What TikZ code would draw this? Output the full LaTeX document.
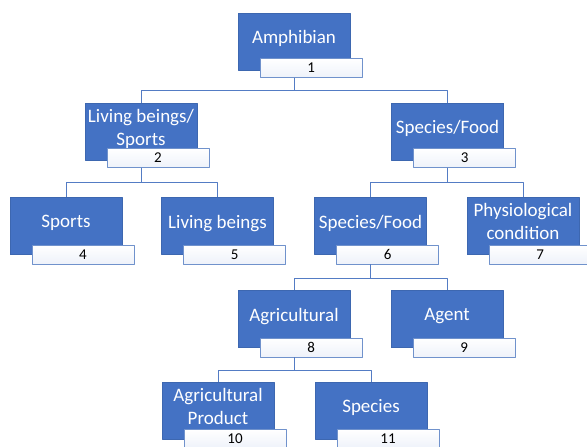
\documentclass[tikz,border=0pt]{standalone}
\usepackage{fontspec}
\setmainfont{Carlito}
\usetikzlibrary{positioning,calc}

\definecolor{orgblue}{RGB}{68,114,196}
\definecolor{numline}{RGB}{112,146,204}
\definecolor{numfill}{RGB}{238,242,250}
\definecolor{linkblue}{RGB}{84,124,196}

\tikzset{
  unitbox/.style={rectangle,fill=orgblue,draw=orgblue!90!black,line width=0.5pt,text=white,
    minimum width=112,minimum height=57,inner sep=1pt,align=center,text depth=9pt,
    font=\fontsize{19}{23}\selectfont},
  numbox/.style={rectangle,draw=numline,line width=0.6pt,top color=white,bottom color=numfill,
    minimum width=102,minimum height=19,inner sep=0pt,anchor=north west,
    font=\fontsize{15}{17}\selectfont},
  link/.style={draw=linkblue,line width=0.8pt}
}

\begin{document}
\begin{tikzpicture}[x=1pt,y=-1pt,line join=round]
  \path[use as bounding box] (0,0) rectangle (587,447);
  \clip (0,0) rectangle (587,447);
  % units
  \node[unitbox] (b1) at (294,41.5) {Amphibian};
  \node[unitbox] (b2) at (141,131.5) {Living beings/\\Sports};
  \node[unitbox] (b3) at (447.5,131.5) {Species/Food};
  \node[unitbox] (b4) at (66,226) {Sports};
  \node[unitbox] (b5) at (217.5,226) {Living beings};
  \node[unitbox] (b6) at (370.5,226) {Species/Food};
  \node[unitbox] (b7) at (523,226) {Physiological\\condition};
  \node[unitbox] (b8) at (294,319) {Agricultural};
  \node[unitbox] (b9) at (447,319) {Agent};
  \node[unitbox] (b10) at (218,410.5) {Agricultural\\Product};
  \node[unitbox] (b11) at (371,410.5) {Species};
  % numbers
  \node[numbox] (l1) at ([xshift=22pt,yshift=12pt]b1.south west) {1};
  \node[numbox] (l2) at ([xshift=22pt,yshift=12pt]b2.south west) {2};
  \node[numbox] (l3) at ([xshift=22pt,yshift=12pt]b3.south west) {3};
  \node[numbox] (l4) at ([xshift=22pt,yshift=10pt]b4.south west) {4};
  \node[numbox] (l5) at ([xshift=22pt,yshift=10pt]b5.south west) {5};
  \node[numbox] (l6) at ([xshift=22pt,yshift=10pt]b6.south west) {6};
  \node[numbox] (l7) at ([xshift=22pt,yshift=10pt]b7.south west) {7};
  \node[numbox] (l8) at ([xshift=22pt,yshift=10pt]b8.south west) {8};
  \node[numbox] (l9) at ([xshift=22pt,yshift=10pt]b9.south west) {9};
  \node[numbox] (l10) at ([xshift=22pt,yshift=10pt]b10.south west) {10};
  \node[numbox] (l11) at ([xshift=22pt,yshift=10pt]b11.south west) {11};
  % links
  \draw[link] (b1 |- l1.south) -- ++(0,13) -| (b2.north);
  \draw[link] (b1 |- l1.south) -- ++(0,13) -| (b3.north);
  \draw[link] (b2 |- l2.south) -- ++(0,15) -| (b4.north);
  \draw[link] (b2 |- l2.south) -- ++(0,15) -| (b5.north);
  \draw[link] (b3 |- l3.south) -- ++(0,15) -| (b6.north);
  \draw[link] (b3 |- l3.south) -- ++(0,15) -| (b7.north);
  \draw[link] (b6 |- l6.south) -- ++(0,14) -| (b8.north);
  \draw[link] (b6 |- l6.south) -- ++(0,14) -| (b9.north);
  \draw[link] (b8 |- l8.south) -- ++(0,13) -| (b10.north);
  \draw[link] (b8 |- l8.south) -- ++(0,13) -| (b11.north);
\end{tikzpicture}
\end{document}
